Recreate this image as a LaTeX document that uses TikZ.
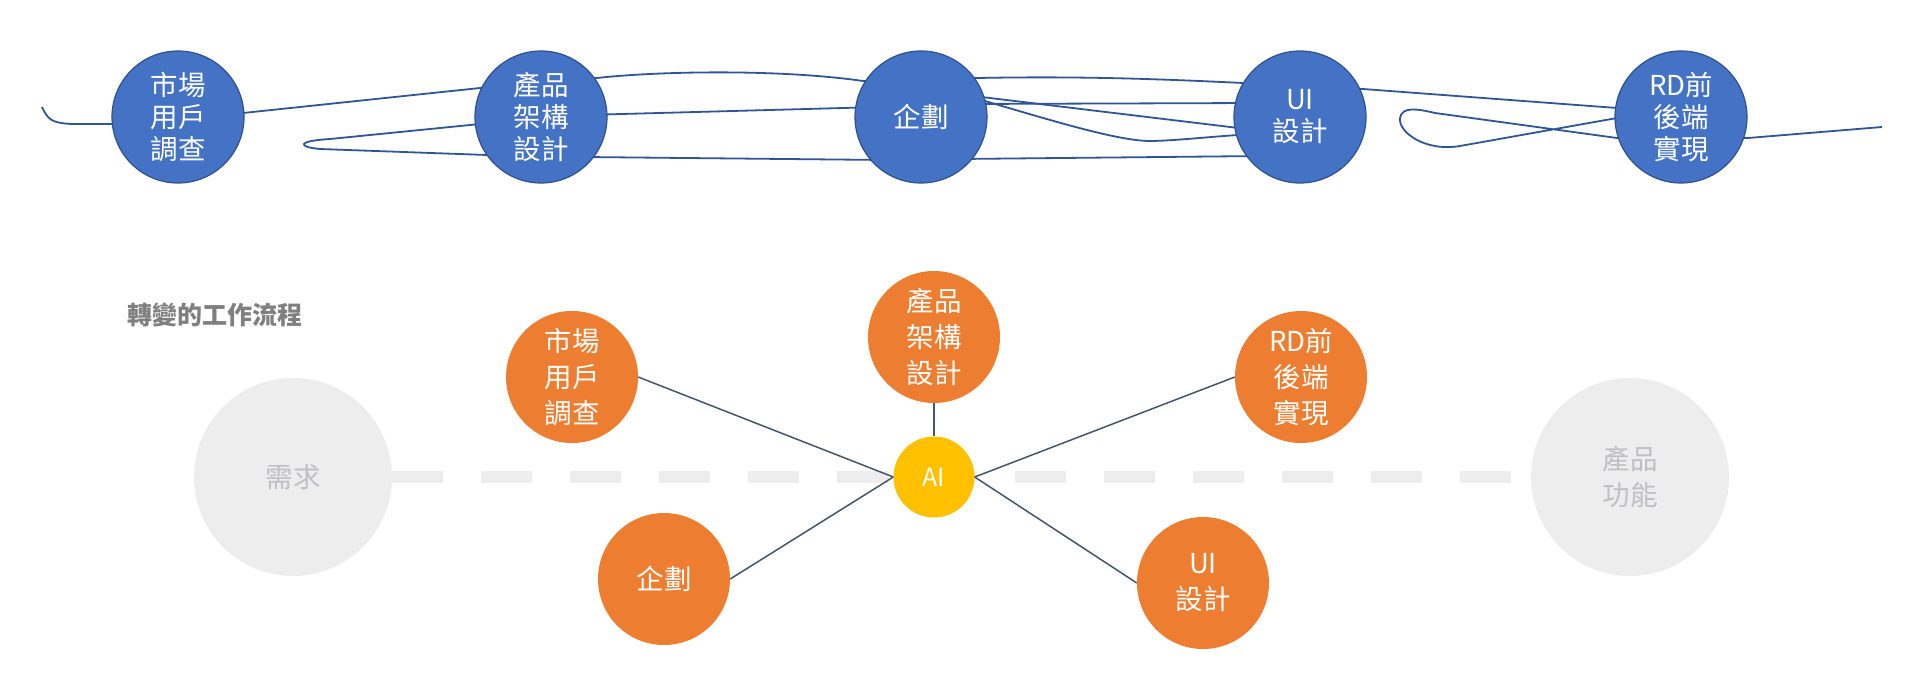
\documentclass[tikz,border=0pt]{standalone}
\usepackage{fontspec}
\setmainfont{Noto Sans CJK TC}
\usetikzlibrary{backgrounds}
\definecolor{topblue}{HTML}{4472C4}
\definecolor{topedge}{HTML}{2F528F}
\definecolor{scrib}{HTML}{2F5597}
\definecolor{orng}{HTML}{ED7D31}
\definecolor{yel}{HTML}{FFC000}
\definecolor{lgray}{HTML}{EDEDED}
\definecolor{gtext}{HTML}{BFBFC4}
\definecolor{ttl}{HTML}{7F7F7F}
\definecolor{conn}{HTML}{44546A}
\tikzset{
  topc/.style={circle, fill=topblue, draw=topedge, line width=1.2pt, minimum size=132pt, inner sep=0pt, text=white, align=center, font=\fontsize{27.5}{32}\selectfont},
  orc/.style={circle, fill=orng, minimum size=132pt, inner sep=0pt, text=white, align=center, font=\fontsize{27.5}{36}\selectfont},
  grc/.style={circle, fill=lgray, minimum size=198pt, inner sep=0pt, text=gtext, align=center, font=\fontsize{27.5}{36}\selectfont},
  aic/.style={circle, fill=yel, minimum size=81pt, inner sep=0pt, text=white, font=\fontsize{25}{28}\selectfont},
  scribble/.style={draw=scrib, line width=1.8pt},
  link/.style={draw=conn, line width=1.5pt},
  dashline/.style={draw=lgray, line width=12pt, dash pattern=on 51pt off 38pt}
}
\begin{document}
\begin{tikzpicture}[x=1pt, y=-1pt]
\useasboundingbox (0,0) rectangle (1931,688);
% ---------- top scribble ----------
\path[scribble] (42,107) .. controls (48,120) and (52,123) .. (72,124) -- (120,124) -- (243,113) -- (480,88) -- (597,78)
  .. controls (660,71) and (780,69) .. (863,81) -- (977,78)
  .. controls (1080,76) and (1160,79) .. (1243,83) -- (1363,89) -- (1617,108) -- (1640,115) -- (1617,118)
  -- (1460,146) .. controls (1425,152) and (1398,132) .. (1400,118) .. controls (1402,106) and (1418,109) .. (1435,113)
  -- (1617,138) -- (1748,138) -- (1882,127);
\path[scribble] (505,154) -- (487,155) -- (320,149) .. controls (298,147) and (296,141) .. (330,139) -- (500,122);
\path[scribble] (585,115) -- (880,107);
\path[scribble] (585,157) -- (885,160);
\path[scribble] (965,104) -- (1255,103);
\path[scribble] (965,95) -- (1255,130);
\path[scribble] (968,96) .. controls (1050,120) and (1120,142) .. (1153,141) .. controls (1185,140) and (1215,136) .. (1255,134);
\path[scribble] (960,159) -- (1262,156);
% ---------- top circles ----------
\node[topc] (t1) at (178,117) {市場\\用戶\\調查};
\node[topc] (t2) at (541,117) {產品\\架構\\設計};
\node[topc] (t3) at (921,117) {企劃};
\node[topc] (t4) at (1300,117) {UI\\設計};
\node[topc] (t5) at (1681,117) {RD前\\後端\\實現};
% ---------- lower part ----------
\node[text=ttl, font=\fontsize{25}{28}\selectfont\bfseries] (title) at (215,315) {轉變的工作流程};
\node[grc] (need) at (293,477) {需求};
\node[grc] (prod) at (1630,477) {產品\\功能};
\node[aic] (ai) at (934,477) {AI};
\node[orc] (m2) at (572,377) {市場\\用戶\\調查};
\node[orc] (a2) at (934,337) {產品\\架構\\設計};
\node[orc] (p2) at (664,579) {企劃};
\node[orc] (r2) at (1301,377) {RD前\\後端\\實現};
\node[orc] (u2) at (1203,583) {UI\\設計};
\begin{scope}[on background layer]
\path[dashline] (need.east) -- (prod.west);
\end{scope}
\path[link] (m2.east) -- (ai.west);
\path[link] (p2.east) -- (ai.west);
\path[link] (a2.south) -- (ai.north);
\path[link] (r2.west) -- (ai.east);
\path[link] (u2.west) -- (ai.east);
\end{tikzpicture}
\end{document}
